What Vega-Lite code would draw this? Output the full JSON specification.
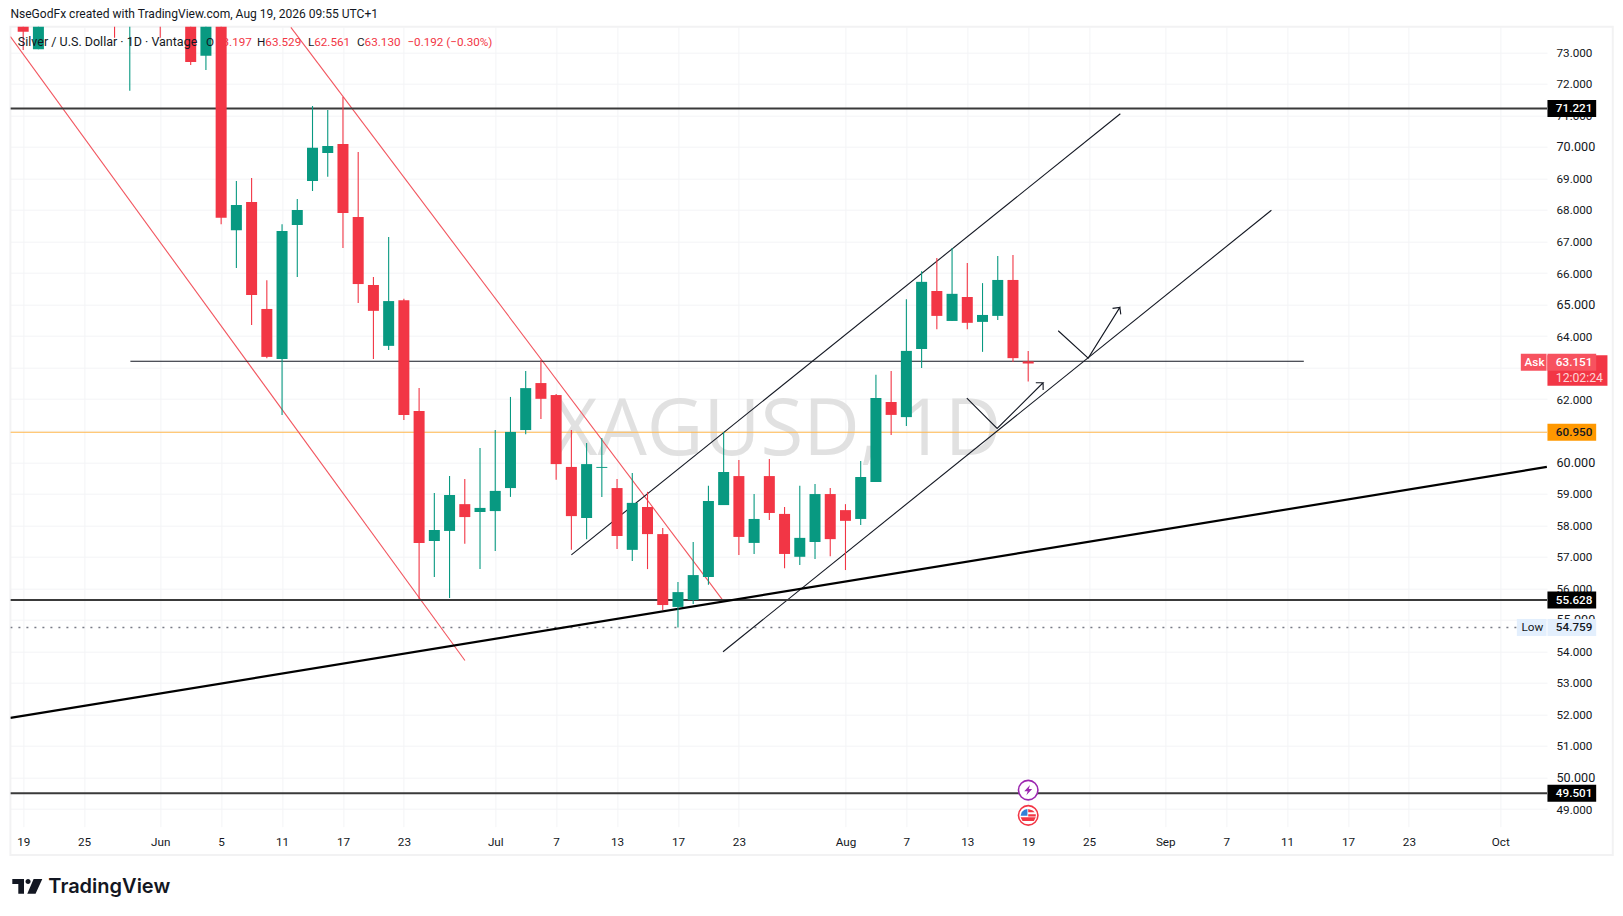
{
  "$schema": "https://vega.github.io/schema/vega-lite/v6.json",
  "description": "Silver / U.S. Dollar daily candles with trend channels and levels",
  "width": 1536.6,
  "height": 800,
  "autosize": {"type": "none"},
  "padding": {"left": 10.4, "top": 26.7, "right": 76, "bottom": 89.3},
  "background": "#ffffff",
  "title": {
    "text": "NseGodFx created with TradingView.com, Aug 19, 2026 09:55 UTC+1",
    "anchor": "start",
    "frame": "group",
    "offset": 6,
    "font": "Roboto",
    "fontSize": 12.05,
    "fontWeight": "normal",
    "color": "#131722"
  },
  "config": {"view": {"stroke": null}},
  "datasets": {
    "candles": [
      {"bar": 0, "open": 74.3, "high": 74.8, "low": 73.07, "close": 73.65},
      {"bar": 1, "open": 73.1, "high": 75.4, "low": 73.1, "close": 75.0},
      {"bar": 6, "open": 75.2, "high": 75.6, "low": 73.46, "close": 74.4},
      {"bar": 7, "open": 74.2, "high": 75.5, "low": 71.78, "close": 75.0},
      {"bar": 9, "open": 75.6, "high": 76.0, "low": 73.46, "close": 74.5},
      {"bar": 11, "open": 74.9, "high": 75.4, "low": 72.6, "close": 72.69},
      {"bar": 12, "open": 72.89, "high": 75.1, "low": 72.44, "close": 74.5},
      {"bar": 13, "open": 74.6, "high": 75.0, "low": 67.55, "close": 67.75},
      {"bar": 14, "open": 67.36, "high": 68.92, "low": 66.16, "close": 68.16},
      {"bar": 15, "open": 68.25, "high": 69.01, "low": 64.35, "close": 65.3},
      {"bar": 16, "open": 64.86, "high": 65.77, "low": 63.3, "close": 63.34},
      {"bar": 17, "open": 63.27, "high": 67.55, "low": 61.5, "close": 67.33},
      {"bar": 18, "open": 67.52, "high": 68.35, "low": 65.87, "close": 68.0},
      {"bar": 19, "open": 68.92, "high": 71.3, "low": 68.6, "close": 69.97},
      {"bar": 20, "open": 69.81, "high": 71.17, "low": 69.05, "close": 70.03},
      {"bar": 21, "open": 70.09, "high": 71.58, "low": 66.79, "close": 67.9},
      {"bar": 22, "open": 67.78, "high": 69.84, "low": 65.05, "close": 65.65},
      {"bar": 23, "open": 65.62, "high": 65.87, "low": 63.27, "close": 64.8},
      {"bar": 24, "open": 63.69, "high": 67.14, "low": 63.56, "close": 65.11},
      {"bar": 25, "open": 65.14, "high": 65.18, "low": 61.34, "close": 61.5},
      {"bar": 26, "open": 61.62, "high": 62.35, "low": 55.66, "close": 57.44},
      {"bar": 27, "open": 57.5, "high": 59.02, "low": 56.36, "close": 57.85},
      {"bar": 28, "open": 57.82, "high": 59.56, "low": 55.69, "close": 58.96},
      {"bar": 29, "open": 58.67, "high": 59.47, "low": 57.41, "close": 58.26},
      {"bar": 30, "open": 58.42, "high": 60.45, "low": 56.61, "close": 58.55},
      {"bar": 31, "open": 58.45, "high": 61.02, "low": 57.18, "close": 59.09},
      {"bar": 32, "open": 59.18, "high": 62.07, "low": 58.9, "close": 60.96},
      {"bar": 33, "open": 61.02, "high": 62.89, "low": 60.89, "close": 62.35},
      {"bar": 34, "open": 62.51, "high": 63.24, "low": 61.37, "close": 62.01},
      {"bar": 35, "open": 62.13, "high": 62.16, "low": 59.44, "close": 59.94},
      {"bar": 36, "open": 59.85, "high": 61.02, "low": 57.22, "close": 58.29},
      {"bar": 37, "open": 58.23, "high": 60.61, "low": 57.56, "close": 59.94},
      {"bar": 38, "open": 59.82, "high": 60.77, "low": 58.9, "close": 59.85},
      {"bar": 39, "open": 59.18, "high": 59.47, "low": 57.25, "close": 57.66},
      {"bar": 40, "open": 57.22, "high": 59.66, "low": 56.87, "close": 58.71},
      {"bar": 41, "open": 58.58, "high": 59.06, "low": 56.61, "close": 57.72},
      {"bar": 42, "open": 57.72, "high": 57.91, "low": 55.31, "close": 55.47},
      {"bar": 43, "open": 55.41, "high": 56.2, "low": 54.759, "close": 55.88},
      {"bar": 44, "open": 55.63, "high": 57.47, "low": 55.5, "close": 56.42},
      {"bar": 45, "open": 56.36, "high": 59.25, "low": 56.11, "close": 58.77},
      {"bar": 46, "open": 58.64, "high": 60.96, "low": 58.64, "close": 59.69},
      {"bar": 47, "open": 59.56, "high": 60.07, "low": 57.06, "close": 57.63},
      {"bar": 48, "open": 57.44, "high": 58.99, "low": 57.09, "close": 58.2},
      {"bar": 49, "open": 59.56, "high": 60.1, "low": 58.17, "close": 58.39},
      {"bar": 50, "open": 58.36, "high": 58.58, "low": 56.64, "close": 57.09},
      {"bar": 51, "open": 57.0, "high": 59.25, "low": 56.74, "close": 57.6},
      {"bar": 52, "open": 57.47, "high": 59.31, "low": 56.93, "close": 58.99},
      {"bar": 53, "open": 58.99, "high": 59.18, "low": 57.02, "close": 57.56},
      {"bar": 54, "open": 58.48, "high": 58.67, "low": 56.58, "close": 58.14},
      {"bar": 55, "open": 58.2, "high": 60.04, "low": 58.01, "close": 59.53},
      {"bar": 56, "open": 59.37, "high": 62.77, "low": 59.37, "close": 62.04},
      {"bar": 57, "open": 61.91, "high": 62.89, "low": 60.86, "close": 61.5},
      {"bar": 58, "open": 61.43, "high": 65.17, "low": 61.15, "close": 63.53},
      {"bar": 59, "open": 63.59, "high": 66.06, "low": 62.99, "close": 65.72},
      {"bar": 60, "open": 65.43, "high": 66.48, "low": 64.22, "close": 64.64},
      {"bar": 61, "open": 64.48, "high": 66.79, "low": 64.48, "close": 65.34},
      {"bar": 62, "open": 65.24, "high": 66.32, "low": 64.22, "close": 64.42},
      {"bar": 63, "open": 64.45, "high": 65.68, "low": 63.5, "close": 64.67},
      {"bar": 64, "open": 64.64, "high": 66.54, "low": 64.51, "close": 65.78},
      {"bar": 65, "open": 65.78, "high": 66.57, "low": 63.18, "close": 63.3},
      {"bar": 66, "open": 63.197, "high": 63.529, "low": 62.561, "close": 63.13}
    ],
    "drawings": [
      {"id": "res", "kind": "level", "seq": 0, "bar": -0.84, "price": 71.221},
      {"id": "res", "kind": "level", "seq": 1, "bar": 100.07, "price": 71.221},
      {"id": "sup", "kind": "level", "seq": 0, "bar": -0.84, "price": 55.628},
      {"id": "sup", "kind": "level", "seq": 1, "bar": 100.07, "price": 55.628},
      {"id": "base", "kind": "level", "seq": 0, "bar": -0.84, "price": 49.501},
      {"id": "base", "kind": "level", "seq": 1, "bar": 100.07, "price": 49.501},
      {"id": "alert", "kind": "alert", "seq": 0, "bar": -0.84, "price": 60.95},
      {"id": "alert", "kind": "alert", "seq": 1, "bar": 100.07, "price": 60.95},
      {"id": "low", "kind": "low", "seq": 0, "bar": -0.84, "price": 54.759},
      {"id": "low", "kind": "low", "seq": 1, "bar": 98.09, "price": 54.759},
      {"id": "mid", "kind": "thin", "seq": 0, "bar": 7.04, "price": 63.2},
      {"id": "mid", "kind": "thin", "seq": 1, "bar": 84.1, "price": 63.2},
      {"id": "down1", "kind": "red", "seq": 0, "bar": -0.84, "price": 73.495},
      {"id": "down1", "kind": "red", "seq": 1, "bar": 29.01, "price": 53.71},
      {"id": "down2", "kind": "red", "seq": 0, "bar": 17.58, "price": 73.79},
      {"id": "down2", "kind": "red", "seq": 1, "bar": 45.89, "price": 55.66},
      {"id": "up1", "kind": "thin", "seq": 0, "bar": 36.0, "price": 57.06},
      {"id": "up1", "kind": "thin", "seq": 1, "bar": 72.05, "price": 71.05},
      {"id": "up2", "kind": "thin", "seq": 0, "bar": 45.96, "price": 53.99},
      {"id": "up2", "kind": "thin", "seq": 1, "bar": 81.97, "price": 67.99},
      {"id": "trend", "kind": "thick", "seq": 0, "bar": -0.84, "price": 51.89},
      {"id": "trend", "kind": "thick", "seq": 1, "bar": 100.06, "price": 59.85},
      {"id": "arrow1", "kind": "thin", "seq": 0, "bar": 61.97, "price": 62.03},
      {"id": "arrow1", "kind": "thin", "seq": 1, "bar": 63.96, "price": 61.07},
      {"id": "arrow1", "kind": "thin", "seq": 2, "bar": 66.98, "price": 62.52},
      {"id": "arrow1", "kind": "thin", "seq": 3, "bar": 66.5, "price": 62.52},
      {"id": "arrow1", "kind": "thin", "seq": 4, "bar": 66.98, "price": 62.52},
      {"id": "arrow1", "kind": "thin", "seq": 5, "bar": 66.98, "price": 62.29},
      {"id": "arrow2", "kind": "thin", "seq": 0, "bar": 67.97, "price": 64.17},
      {"id": "arrow2", "kind": "thin", "seq": 1, "bar": 69.94, "price": 63.3},
      {"id": "arrow2", "kind": "thin", "seq": 2, "bar": 72.02, "price": 64.91},
      {"id": "arrow2", "kind": "thin", "seq": 3, "bar": 71.54, "price": 64.88},
      {"id": "arrow2", "kind": "thin", "seq": 4, "bar": 72.02, "price": 64.91},
      {"id": "arrow2", "kind": "thin", "seq": 5, "bar": 72.08, "price": 64.69}
    ],
    "legend": [
      {"bar": -0.35, "price": 73.34, "part": "symbol", "text": "Silver / U.S. Dollar · 1D · Vantage"},
      {"bar": 12.0, "price": 73.34, "part": "name", "text": "O"},
      {"bar": 12.66, "price": 73.34, "part": "value", "text": "63.197"},
      {"bar": 15.35, "price": 73.34, "part": "name", "text": "H"},
      {"bar": 15.9, "price": 73.34, "part": "value", "text": "63.529"},
      {"bar": 18.7, "price": 73.34, "part": "name", "text": "L"},
      {"bar": 19.11, "price": 73.34, "part": "value", "text": "62.561"},
      {"bar": 21.92, "price": 73.34, "part": "name", "text": "C"},
      {"bar": 22.42, "price": 73.34, "part": "value", "text": "63.130"},
      {"bar": 25.23, "price": 73.34, "part": "value", "text": "−0.192 (−0.30%)"}
    ],
    "badges": [
      {"kind": "level", "bar": 100.1, "bar2": 103.3, "price": 71.221, "label": "71.221"},
      {"kind": "level", "bar": 100.1, "bar2": 103.3, "price": 55.628, "label": "55.628"},
      {"kind": "level", "bar": 100.1, "bar2": 103.3, "price": 49.501, "label": "49.501"},
      {"kind": "alert", "bar": 100.1, "bar2": 103.3, "price": 60.95, "label": "60.950"},
      {"kind": "low", "bar": 100.1, "bar2": 103.3, "price": 54.759, "label": "54.759"},
      {"kind": "ask", "bar": 100.1, "bar2": 103.3, "price": 63.17, "label": "63.151"}
    ]
  },
  "data": {"name": "candles"},
  "encoding": {
    "x": {
      "field": "bar",
      "type": "quantitative",
      "title": null,
      "scale": {"domain": [-0.84, 100.07], "nice": false, "zero": false},
      "axis": {
        "values": [0, 4, 9, 13, 17, 21, 25, 31, 35, 39, 43, 47, 54, 58, 62, 66, 70, 75, 79, 83, 87, 91, 97],
        "labelExpr": "{'0':'19','4':'25','9':'Jun','13':'5','17':'11','21':'17','25':'23','31':'Jul','35':'7','39':'13','43':'17','47':'23','54':'Aug','58':'7','62':'13','66':'19','70':'25','75':'Sep','79':'7','83':'11','87':'17','91':'23','97':'Oct'}[datum.value]",
        "grid": true,
        "gridColor": "#f3f4f6",
        "ticks": false,
        "domain": false,
        "labelFont": "Roboto",
        "labelFontSize": 11.7,
        "labelColor": "#131722",
        "labelPadding": 10,
        "labelFlush": false,
        "labelOverlap": false
      }
    },
    "y": {
      "field": "price",
      "type": "quantitative",
      "title": null,
      "scale": {"domain": [48.44, 73.812], "nice": false, "zero": false},
      "axis": {
        "orient": "right",
        "values": [49, 50, 51, 52, 53, 54, 55, 56, 57, 58, 59, 60, 61, 62, 63, 64, 65, 66, 67, 68, 69, 70, 71, 72, 73],
        "format": ".3f",
        "grid": true,
        "gridColor": "#f3f4f6",
        "ticks": false,
        "domain": false,
        "labelFont": "Roboto",
        "labelFontSize": {"condition": {"test": "datum.value % 5 === 0", "value": 12.6}, "value": 11.7},
        "labelColor": "#131722",
        "labelPadding": 9,
        "labelFlush": false,
        "labelOverlap": false
      }
    }
  },
  "layer": [
    {
      "data": {"values": [{"bar": -0.84, "bar2": 104.39, "price": 73.812, "price2": 47.54}]},
      "mark": {"type": "rect", "fill": null, "stroke": "#f2f2f3", "strokeWidth": 2},
      "encoding": {"x2": {"field": "bar2"}, "y2": {"field": "price2"}}
    },
    {
      "data": {"values": [{"bar": 49.5, "price": 60.23, "text": "XAGUSD, 1D"}]},
      "mark": {"type": "text", "font": "Open Sans", "fontSize": 78, "color": "#e1e1e1", "align": "center", "baseline": "alphabetic"},
      "encoding": {"text": {"field": "text"}}
    },
    {
      "data": {"name": "drawings"},
      "transform": [{"filter": "datum.kind === 'alert'"}],
      "mark": {"type": "line", "color": "#ffb74d", "strokeWidth": 1.2, "clip": true},
      "encoding": {"detail": {"field": "id"}, "order": {"field": "seq"}}
    },
    {
      "data": {"name": "drawings"},
      "transform": [{"filter": "datum.kind === 'low'"}],
      "mark": {"type": "line", "color": "#787b86", "strokeWidth": 1.4, "strokeDash": [2, 6], "clip": true},
      "encoding": {"detail": {"field": "id"}, "order": {"field": "seq"}}
    },
    {
      "data": {"name": "drawings"},
      "transform": [{"filter": "datum.kind === 'red'"}],
      "mark": {"type": "line", "color": "#f2565f", "strokeWidth": 1.1, "clip": true},
      "encoding": {"detail": {"field": "id"}, "order": {"field": "seq"}}
    },
    {
      "data": {"name": "drawings"},
      "transform": [{"filter": "datum.kind === 'thin'"}],
      "mark": {"type": "line", "color": "#131722", "strokeWidth": 1.1, "clip": true},
      "encoding": {"detail": {"field": "id"}, "order": {"field": "seq"}}
    },
    {
      "data": {"name": "drawings"},
      "transform": [{"filter": "datum.kind === 'level'"}],
      "mark": {"type": "line", "color": "#3a3a3a", "strokeWidth": 2, "clip": true},
      "encoding": {"detail": {"field": "id"}, "order": {"field": "seq"}}
    },
    {
      "data": {"name": "drawings"},
      "transform": [{"filter": "datum.kind === 'thick'"}],
      "mark": {"type": "line", "color": "#000000", "strokeWidth": 2.2, "clip": true},
      "encoding": {"detail": {"field": "id"}, "order": {"field": "seq"}}
    },
    {
      "mark": {"type": "rule", "strokeWidth": 1.1, "clip": true},
      "encoding": {
        "y": {"field": "low", "type": "quantitative"},
        "y2": {"field": "high"},
        "color": {"condition": {"test": "datum.close < datum.open", "value": "#f23645"}, "value": "#089981"}
      }
    },
    {
      "mark": {"type": "rule", "strokeWidth": 11, "clip": true},
      "encoding": {
        "y": {"field": "open", "type": "quantitative"},
        "y2": {"field": "close"},
        "color": {"condition": {"test": "datum.close < datum.open", "value": "#f23645"}, "value": "#089981"}
      }
    },
    {
      "data": {"name": "legend"},
      "transform": [{"filter": "datum.part !== 'symbol'"}],
      "mark": {"type": "text", "font": "Roboto", "fontSize": 11.7, "align": "left", "baseline": "middle"},
      "encoding": {
        "text": {"field": "text"},
        "color": {"condition": {"test": "datum.part === 'value'", "value": "#f23645"}, "value": "#131722"}
      }
    },
    {
      "data": {"name": "legend"},
      "transform": [{"filter": "datum.part === 'symbol'"}],
      "mark": {"type": "text", "font": "Roboto", "fontSize": 12.5, "align": "left", "baseline": "middle", "color": "#131722"},
      "encoding": {"text": {"field": "text"}}
    },
    {
      "data": {"values": [{"bar": 100.1, "bar2": 104.04, "price": 62.91}]},
      "mark": {"type": "rule", "color": "#f23645", "strokeWidth": 30.4},
      "encoding": {"x2": {"field": "bar2"}}
    },
    {
      "data": {"name": "badges"},
      "mark": {"type": "rule", "strokeWidth": 17},
      "encoding": {
        "x2": {"field": "bar2"},
        "color": {
          "condition": [
            {"test": "datum.kind === 'level'", "value": "#000000"},
            {"test": "datum.kind === 'alert'", "value": "#ff9800"},
            {"test": "datum.kind === 'low'", "value": "#e3effd"}
          ],
          "value": "#f7525f"
        }
      }
    },
    {
      "data": {"values": [{"bar": 98.09, "bar2": 100.04, "price": 54.759}]},
      "mark": {"type": "rule", "strokeWidth": 17, "color": "#e3effd"},
      "encoding": {"x2": {"field": "bar2"}}
    },
    {
      "data": {"values": [{"bar": 98.35, "bar2": 100.04, "price": 63.17}]},
      "mark": {"type": "rule", "strokeWidth": 17, "color": "#f7525f"},
      "encoding": {"x2": {"field": "bar2"}}
    },
    {
      "data": {"name": "badges"},
      "mark": {"type": "text", "font": "Roboto", "fontSize": 11.7, "fontWeight": 500, "align": "left", "baseline": "middle", "dx": 8.4},
      "encoding": {
        "text": {"field": "label"},
        "color": {
          "condition": {"test": "datum.kind === 'level' || datum.kind === 'ask'", "value": "#ffffff"},
          "value": "#131722"
        }
      }
    },
    {
      "data": {"values": [{"bar": 100.1, "price": 62.68, "label": "12:02:24"}]},
      "mark": {"type": "text", "font": "Roboto", "fontSize": 12.2, "align": "left", "baseline": "middle", "dx": 8.4, "color": "#fdd5d8"},
      "encoding": {"text": {"field": "label"}}
    },
    {
      "data": {"values": [{"bar": 98.6, "price": 63.17, "label": "Ask"}]},
      "mark": {"type": "text", "font": "Roboto", "fontSize": 11.7, "fontWeight": 500, "align": "left", "baseline": "middle", "color": "#ffffff"},
      "encoding": {"text": {"field": "label"}}
    },
    {
      "data": {"values": [{"bar": 98.4, "price": 54.759, "label": "Low"}]},
      "mark": {"type": "text", "font": "Roboto", "fontSize": 11.7, "align": "left", "baseline": "middle", "color": "#131722"},
      "encoding": {"text": {"field": "label"}}
    },
    {
      "data": {"values": [{"bar": 66, "price": 49.6}]},
      "mark": {"type": "point", "shape": "circle", "size": 380, "filled": true, "fill": "#ffffff", "stroke": "#9c27b0", "strokeWidth": 1.6, "opacity": 1}
    },
    {
      "data": {"values": [{"bar": 66, "price": 49.6}]},
      "mark": {"type": "point", "shape": "M0.35,-1 L-0.75,0.2 L-0.1,0.2 L-0.35,1 L0.75,-0.2 L0.1,-0.2 Z", "size": 110, "filled": true, "color": "#9c27b0", "opacity": 1}
    },
    {
      "data": {"values": [{"bar": 66, "price": 48.8}]},
      "mark": {"type": "point", "shape": "circle", "size": 380, "filled": true, "fill": "#ffffff", "stroke": "#f23645", "strokeWidth": 1.6, "opacity": 1}
    },
    {
      "data": {"values": [{"bar": 66, "price": 48.8}]},
      "mark": {"type": "point", "shape": "M0,-0.85 L0.6,-0.65 L0.85,-0.4 L0,-0.4 Z M0,-0.15 L1,-0.15 L1,0.15 L0,0.15 Z M-1,0.25 L1,0.25 L0.75,0.75 L-0.75,0.75 Z", "size": 230, "filled": true, "color": "#f23645", "opacity": 1}
    },
    {
      "data": {"values": [{"bar": 66, "price": 48.8}]},
      "mark": {"type": "point", "shape": "M-0.1,-0.85 L-0.1,0.05 L-1,0.05 L-0.85,-0.45 L-0.5,-0.75 Z", "size": 230, "filled": true, "color": "#2f80d8", "opacity": 1}
    },
    {
      "data": {"values": [{"bar": 0.27, "price": 46.55}]},
      "mark": {"type": "point", "shape": "M-1,-0.49 H-0.22 V0.49 H-0.6 V-0.15 H-1 Z M-0.12,-0.32 A0.17,0.17 0 1 0 0.22,-0.32 A0.17,0.17 0 1 0 -0.12,-0.32 Z M0.42,-0.49 H1 L0.55,0.49 H0 Z", "size": 900, "filled": true, "color": "#131722", "opacity": 1}
    },
    {
      "data": {"values": [{"bar": 1.65, "price": 46.34, "text": "TradingView"}]},
      "mark": {"type": "text", "font": "Inter", "fontSize": 20, "fontWeight": 600, "color": "#131722", "align": "left", "baseline": "alphabetic"},
      "encoding": {"text": {"field": "text"}}
    }
  ]
}
